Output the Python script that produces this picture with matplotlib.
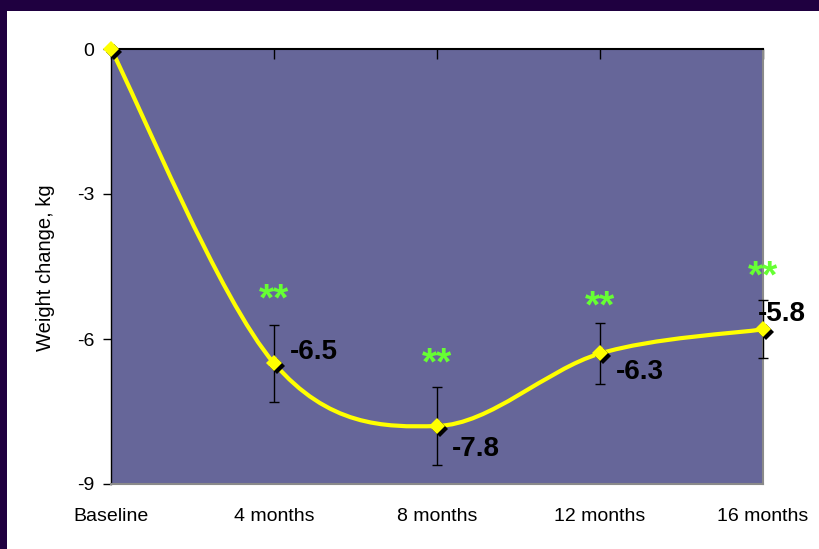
import matplotlib
matplotlib.use("Agg")
import matplotlib.pyplot as plt
from matplotlib.path import Path
from matplotlib.patches import PathPatch, Rectangle
import matplotlib.transforms as mtransforms

# ---- data ----
categories = ["Baseline", "4 months", "8 months", "12 months", "16 months"]
weight_change = [0.0, -6.5, -7.8, -6.3, -5.8]
error = [0.0, 0.8, 0.8, 0.63, 0.6]
value_labels = ["", "-6.5", "-7.8", "-6.3", "-5.8"]
star_y = [None, -5.42, -6.74, -5.56, -4.93]
y_ticks = [0, -3, -6, -9]

plt.rcParams['font.family'] = ['Liberation Sans', 'DejaVu Sans']

fig = plt.figure(figsize=(8.19, 5.49), dpi=100)
fig.patch.set_facecolor('white')
# dark frame (top and left)
fig.patches.append(Rectangle((0, 1 - 11 / 549), 1, 11 / 549, transform=fig.transFigure,
                             facecolor='#1f0040', edgecolor='none', zorder=0))
fig.patches.append(Rectangle((0, 0), 7 / 819, 1, transform=fig.transFigure,
                             facecolor='#1f0040', edgecolor='none', zorder=0))

ax = fig.add_axes([111 / 819, 65 / 549, 652 / 819, 435 / 549])
ax.set_facecolor('#666699')
x = list(range(len(categories)))
ax.set_xlim(0, 4)
ax.set_ylim(-9, 0)

# spines
ax.spines['top'].set_color('black')
ax.spines['top'].set_linewidth(1.5)
ax.spines['left'].set_color('black')
ax.spines['left'].set_linewidth(1.0)
ax.spines['bottom'].set_color('#8a8a8a')
ax.spines['bottom'].set_linewidth(1.5)
ax.spines['right'].set_color('#8a8a8a')
ax.spines['right'].set_linewidth(1.5)

ax.set_yticks(y_ticks)
ax.set_yticklabels([str(v) for v in y_ticks])
ax.tick_params(axis='y', direction='out', length=6, width=1, pad=6, labelsize=14)
ax.set_xticks(x)
ax.set_xticklabels(categories)
ax.tick_params(axis='x', top=True, bottom=False, labeltop=False, labelbottom=True,
               direction='in', length=7, width=1, pad=17, labelsize=14)

fig.text(46 / 819, 1 - 268 / 549, "Weight change, kg", rotation=90, ha='center', va='center',
         fontsize=14.5)

# smoothed line (Bezier through points, Excel-style)
pts = list(zip(x, weight_change))
n = len(pts)
verts = [pts[0]]
codes = [Path.MOVETO]
for i in range(n - 1):
    p0 = pts[i - 1] if i > 0 else pts[i]
    p1 = pts[i]
    p2 = pts[i + 1]
    p3 = pts[i + 2] if i + 2 < n else pts[i + 1]
    c1 = (p1[0] + (p2[0] - p0[0]) / 6, p1[1] + (p2[1] - p0[1]) / 6)
    c2 = (p2[0] - (p3[0] - p1[0]) / 6, p2[1] - (p3[1] - p1[1]) / 6)
    verts += [c1, c2, p2]
    codes += [Path.CURVE4] * 3
ax.add_patch(PathPatch(Path(verts, codes), facecolor='none', edgecolor='#ffff00',
                       linewidth=3, zorder=3, clip_on=False))

# error bars
eb = ax.errorbar(x[1:], weight_change[1:], yerr=error[1:], fmt='none', ecolor='black',
                 elinewidth=1, capsize=3.5, capthick=1, zorder=2.8)
for art in eb.lines[1] + eb.lines[2]:
    art.set_clip_on(False)

# markers with shadow
shadow = mtransforms.offset_copy(ax.transData, fig=fig, x=3, y=-3, units='dots')
ax.plot(x, weight_change, linestyle='none', marker='D', markersize=8, color='black',
        markeredgewidth=0, transform=shadow, zorder=4, clip_on=False)
ax.plot(x, weight_change, linestyle='none', marker='D', markersize=8, color='#ffff00',
        markeredgewidth=0, zorder=5, clip_on=False)

# value labels
offsets = [None, (11.5, 2.9), (10.8, -21.6), (11.5, -18.7), (-3.6, 5.8)]
for i in range(1, n):
    ax.annotate(value_labels[i], (x[i], weight_change[i]), xytext=offsets[i],
                textcoords='offset points', ha='left', va='baseline', fontsize=20,
                fontweight='bold', color='black', zorder=6, annotation_clip=False)
    ax.text(x[i], star_y[i], "**", ha='center', va='baseline', fontsize=28,
            fontweight='bold', color='#66ff33', zorder=6, clip_on=False)

fig.savefig("out.png", dpi=100)
